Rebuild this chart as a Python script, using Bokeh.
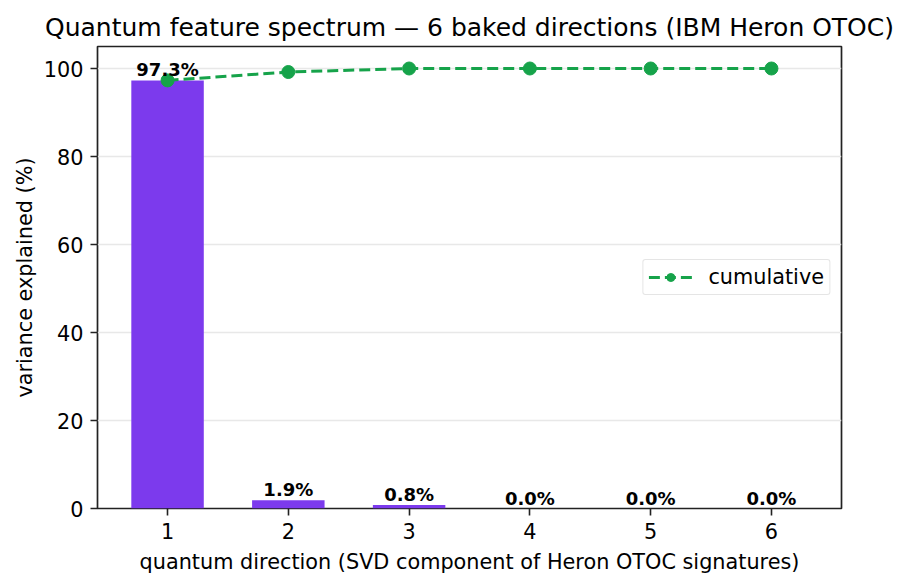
from bokeh.plotting import figure
from bokeh.models import ColumnDataSource, Range1d, FixedTicker, LabelSet
from bokeh.core.properties import value
from bokeh.embed import file_html
from bokeh.resources import INLINE

# data
directions = [1, 2, 3, 4, 5, 6]
variance = [97.3, 1.9, 0.8, 0.0, 0.0, 0.0]
cumulative = [97.3, 99.2, 100.0, 100.0, 100.0, 100.0]
bar_labels = ["97.3%", "1.9%", "0.8%", "0.0%", "0.0%", "0.0%"]

purple = "#7c3aed"
green = "#16a34a"
FONT = "DejaVu Sans"

src = ColumnDataSource(data=dict(x=directions, v=variance, c=cumulative, lab=bar_labels))

p = figure(width=893, height=578, output_backend="svg", toolbar_location=None,
           title="Quantum feature spectrum — 6 baked directions (IBM Heron OTOC)",
           x_range=Range1d(0.42, 6.58), y_range=Range1d(0, 105),
           min_border_left=97, min_border_right=52, min_border_top=46, min_border_bottom=70)

p.title.text_font = FONT
p.title.text_font_size = "25px"
p.title.text_font_style = "normal"
p.title.align = "center"
p.title.text_color = "black"
p.title.offset = 0

p.vbar(x="x", top="v", width=0.6, fill_color=purple, line_color=None, source=src)
p.line("x", "c", line_color=green, line_width=3, line_dash="11 5", source=src, legend_label="cumulative")
p.scatter("x", "c", size=13, color=green, source=src, legend_label="cumulative")

labels = LabelSet(x="x", y="v", text="lab", source=src, text_align="center", text_baseline="bottom",
                  y_offset=0, text_font=value(FONT), text_font_size=value("18px"),
                  text_font_style=value("bold"), text_color="black")
p.add_layout(labels)

p.xaxis.ticker = FixedTicker(ticks=directions)
p.yaxis.ticker = FixedTicker(ticks=[0, 20, 40, 60, 80, 100])
p.xaxis.axis_label = "quantum direction (SVD component of Heron OTOC signatures)"
p.yaxis.axis_label = "variance explained (%)"

for ax in (p.xaxis, p.yaxis):
    ax.axis_label_text_font = FONT
    ax.axis_label_text_font_size = "20.8px"
    ax.axis_label_text_font_style = "normal"
    ax.axis_label_text_color = "black"
    ax.major_label_text_font = FONT
    ax.major_label_text_font_size = "20.8px"
    ax.major_label_text_color = "black"
    ax.major_label_standoff = 7
    ax.major_tick_out = 7
    ax.major_tick_in = 0
    ax.minor_tick_out = 0
    ax.minor_tick_in = 0
    ax.axis_line_color = None
    ax.major_tick_line_color = "#222222"
    ax.major_tick_line_width = 1.6
p.xaxis.axis_label_standoff = 8
p.yaxis.axis_label_standoff = 4

p.xgrid.grid_line_color = None
p.ygrid.grid_line_color = "#e8e8e8"
p.ygrid.grid_line_width = 1.5

p.outline_line_color = "#222222"
p.outline_line_width = 1.7

p.legend.location = "right"
p.legend.label_text_font = FONT
p.legend.label_text_font_size = "20.8px"
p.legend.label_text_color = "black"
p.legend.border_line_color = "#cccccc"
p.legend.border_line_width = 1.5
p.legend.border_radius = 3
p.legend.background_fill_alpha = 0.8
p.legend.margin = 11
p.legend.padding = 5
p.legend.glyph_width = 44
p.legend.label_standoff = 16
p.legend.spacing = 0

open("out.html", "w").write(file_html(p, INLINE))
